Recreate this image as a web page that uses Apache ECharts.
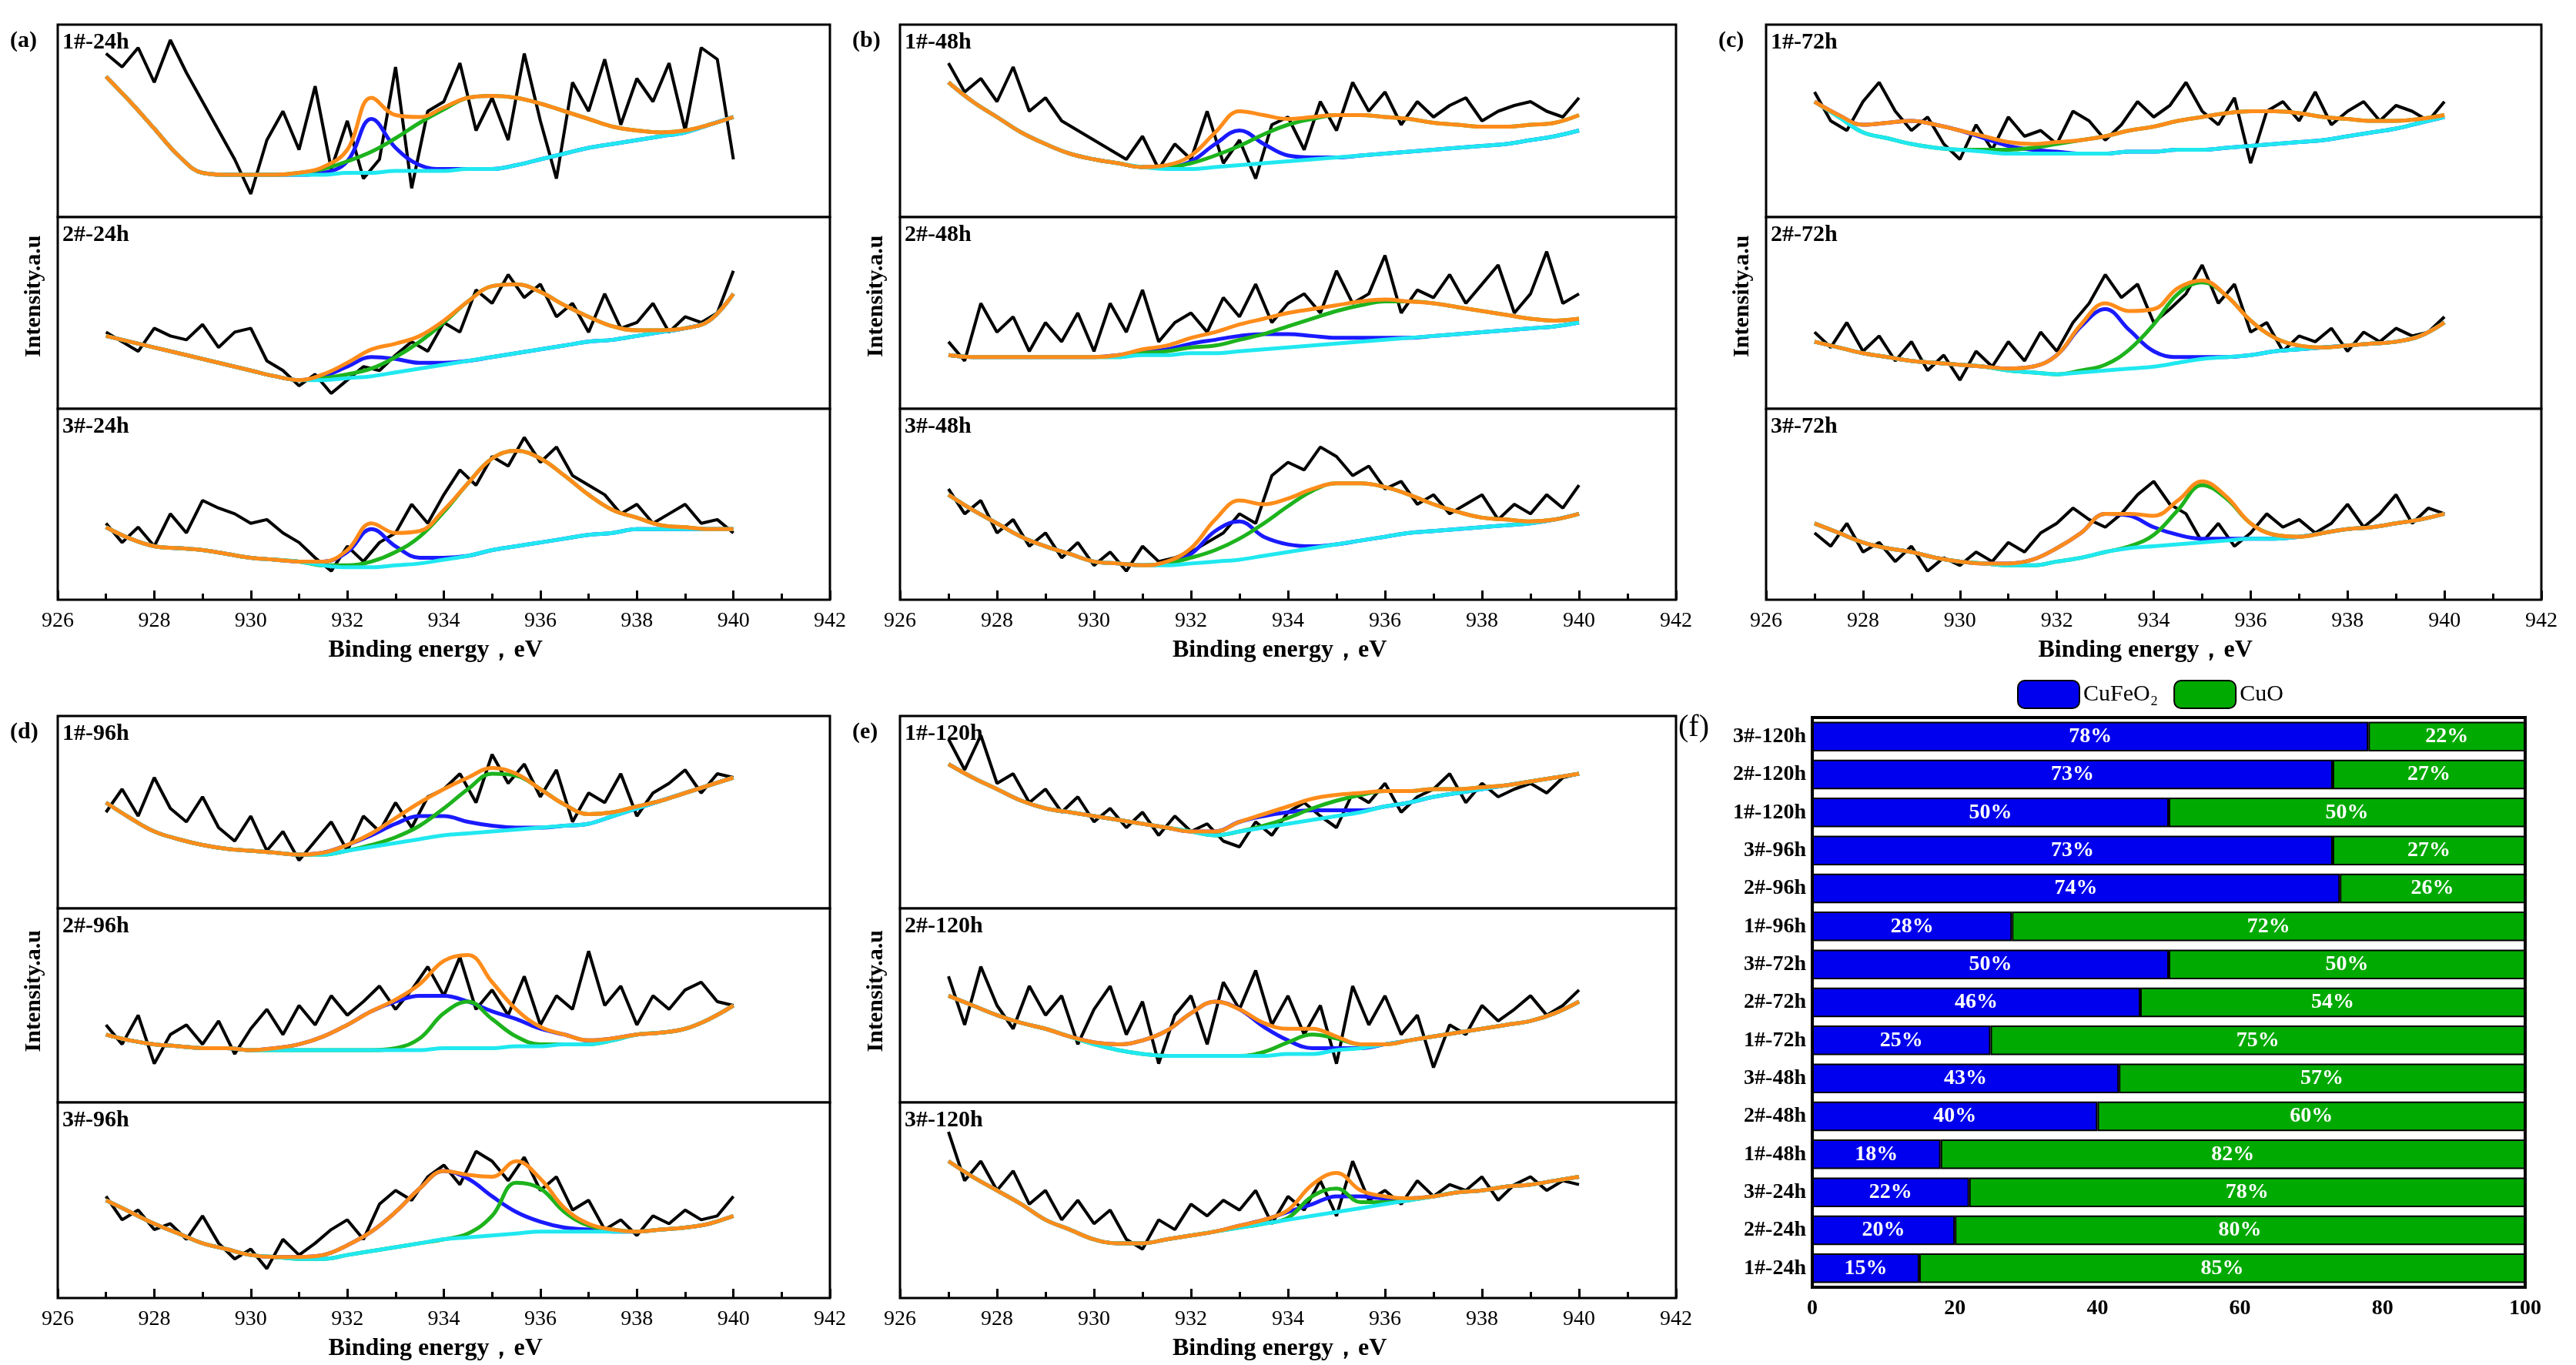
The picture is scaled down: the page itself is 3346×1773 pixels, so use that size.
<!DOCTYPE html>
<html>
<head>
<meta charset="utf-8">
<script src="https://cdn.jsdelivr.net/npm/echarts@6/dist/echarts.min.js"></script>
<style>html,body{margin:0;background:#fff}#chart{width:3346px;height:1773px}</style>
</head>
<body>
<div id="chart"></div>
<script>
// fit knots: 927 .. 940 every 0.5 eV ; raw spectrum: 927 .. 940 every 1/3 eV
const knotStart = 927, knotStep = 0.5
const rawStart = 927, rawStep = 1 / 3

// ---- (a) 24h ----
const bg_1_24 = [73,60,46,32,23,22,22,22,22,22,23,23,24,24,24,25,25,27,30,33,36,38,40,42,44,48,52]
const cufeo2_1_24 = [0,0,0,0,0,0,0,0,0,1,6,28,12,3,1,0,0,0,0,0,0,0,0,0,0,0,0]
const cuo_1_24 = [0,0,0,0,0,0,0,0,1,3,6,11,17,25,32,37,38,35,29,22,15,9,5,2,1,0,0]
const raw_1_24 = [85,78,88,70,92,75,60,45,30,12,40,55,35,68,25,50,20,30,78,15,55,60,80,45,62,40,85,50,20,70,55,82,48,72,60,80,45,88,82,30]

const bg_2_24 = [38,35,32,29,26,23,20,17,15,15,16,17,19,21,23,25,27,29,31,33,35,36,38,40,42,46,60]
const cufeo2_2_24 = [0,0,0,0,0,0,0,0,0,2,6,10,7,3,1,0,0,0,0,0,0,0,0,0,0,0,0]
const cuo_2_24 = [0,0,0,0,0,0,0,0,0,1,2,4,8,14,22,31,37,36,30,21,13,7,3,1,0,0,0]
const raw_2_24 = [40,35,30,42,38,36,44,32,40,42,25,20,12,18,8,15,22,20,28,35,30,45,40,62,55,70,58,65,48,55,40,60,42,45,55,40,48,45,50,72]

const bg_3_24 = [38,32,28,27,26,24,22,21,20,18,17,17,18,19,21,23,26,28,30,32,34,35,37,37,37,37,37]
const cufeo2_3_24 = [0,0,0,0,0,0,0,0,0,2,8,20,10,3,1,0,0,0,0,0,0,0,0,0,0,0,0]
const cuo_3_24 = [0,0,0,0,0,0,0,0,0,0,1,3,7,14,25,38,48,50,44,33,21,12,6,2,1,0,0]
const raw_3_24 = [40,30,38,28,45,35,52,48,45,40,42,35,30,22,15,28,20,30,35,50,40,55,68,60,75,70,85,72,80,65,60,55,45,50,40,45,50,40,42,35]

// ---- (b) 48h ----
const bg_1_48 = [70,60,52,44,38,33,30,28,26,25,25,26,27,28,29,30,31,32,33,34,35,36,37,38,40,42,45]
const cufeo2_1_48 = [0,0,0,0,0,0,0,0,0,1,4,12,18,10,3,1,0,0,0,0,0,0,0,0,0,0,0]
const cuo_1_48 = [0,0,0,0,0,0,0,0,0,1,3,6,10,15,19,21,22,21,19,17,14,12,10,9,8,7,8]
const raw_1_48 = [80,65,72,60,78,55,62,50,45,40,35,30,42,25,38,30,55,28,40,20,48,52,35,60,45,70,55,65,48,60,52,58,62,50,55,58,60,55,52,62]

const bg_2_48 = [28,27,27,27,27,27,27,27,28,28,29,29,30,31,32,33,34,35,36,37,38,39,40,41,42,43,45]
const cufeo2_2_48 = [0,0,0,0,0,0,0,1,2,3,5,7,8,8,7,5,3,2,1,0,0,0,0,0,0,0,0]
const cuo_2_48 = [0,0,0,0,0,0,0,0,1,2,3,4,6,8,11,14,17,19,20,19,17,14,11,8,5,3,2]
const raw_2_48 = [35,25,55,40,48,30,45,35,50,30,55,40,62,35,45,50,40,58,48,65,45,55,60,50,72,55,60,80,50,62,58,70,55,65,75,50,60,82,55,60]

const bg_3_48 = [55,47,40,33,28,24,20,19,18,18,19,20,21,23,25,27,29,31,33,35,36,37,38,39,40,42,45]
const cufeo2_3_48 = [0,0,0,0,0,0,0,0,0,1,5,16,20,10,4,1,0,0,0,0,0,0,0,0,0,0,0]
const cuo_3_48 = [0,0,0,0,0,0,0,0,0,1,3,6,11,17,24,30,32,30,26,20,14,9,5,3,1,0,0]
const raw_3_48 = [58,45,52,35,42,28,35,22,30,18,25,15,28,20,22,25,30,35,45,40,65,72,68,80,75,65,70,58,62,50,55,45,50,55,42,50,45,55,48,60]

// ---- (c) 72h ----
const bg_1_72 = [60,52,44,41,38,36,35,34,33,33,33,33,33,34,34,35,35,36,37,38,39,40,42,44,46,49,52]
const cufeo2_1_72 = [0,1,4,8,12,12,10,7,4,2,1,0,0,0,0,0,0,0,0,0,0,0,0,0,0,0,0]
const cuo_1_72 = [0,0,0,0,0,0,0,1,2,3,5,7,9,11,13,15,17,18,18,17,15,12,9,6,4,2,1]
const raw_1_72 = [65,50,45,60,70,55,45,52,38,30,48,35,52,42,45,38,55,50,40,48,60,52,58,70,55,48,62,28,55,60,50,65,48,55,60,50,58,55,50,60]

const bg_2_72 = [35,32,29,27,25,24,23,22,20,19,18,19,20,21,22,24,26,27,28,30,31,32,33,34,35,38,45]
const cufeo2_2_72 = [0,0,0,0,0,0,0,0,1,3,10,24,32,20,8,3,1,0,0,0,0,0,0,0,0,0,0]
const cuo_2_72 = [0,0,0,0,0,0,0,0,0,0,0,1,3,10,22,36,40,32,18,7,2,0,0,0,0,0,0]
const raw_2_72 = [40,32,45,30,38,25,35,20,28,15,30,22,35,25,40,30,45,55,70,58,65,45,52,60,75,55,65,40,45,30,38,35,42,30,40,35,42,38,40,48]

const bg_3_72 = [40,35,30,27,25,22,20,19,18,18,20,22,25,27,28,29,30,31,32,32,33,35,37,38,40,42,45]
const cufeo2_3_72 = [0,0,0,0,0,0,0,0,1,3,7,13,20,17,10,5,2,1,0,0,0,0,0,0,0,0,0]
const cuo_3_72 = [0,0,0,0,0,0,0,0,0,0,0,0,0,1,6,18,30,22,8,2,0,0,0,0,0,0,0]
const raw_3_72 = [35,28,40,25,30,20,28,15,22,18,25,20,30,25,35,40,48,42,38,45,55,62,50,45,30,40,28,35,45,38,42,35,40,50,38,45,55,40,48,45]

// ---- (d) 96h ----
const bg_1_96 = [55,47,40,36,33,31,30,29,28,28,30,32,34,36,38,39,40,41,42,43,44,48,52,56,60,64,68]
const cufeo2_1_96 = [0,0,0,0,0,0,0,0,0,1,3,6,10,12,10,6,3,1,0,0,0,0,0,0,0,0,0]
const cuo_1_96 = [0,0,0,0,0,0,0,0,0,0,0,1,3,7,14,23,30,28,20,11,5,2,1,0,0,0,0]
const raw_1_96 = [50,62,48,68,52,45,58,42,35,48,30,40,25,35,45,30,48,40,55,42,58,62,70,55,80,65,75,58,72,45,60,55,70,48,60,65,72,60,70,68]

const bg_2_96 = [35,32,30,29,28,28,27,27,27,27,27,27,27,27,28,28,28,29,29,30,30,32,35,36,38,43,50]
const cufeo2_2_96 = [0,0,0,0,0,0,0,1,3,7,13,20,25,28,27,24,19,14,9,5,2,1,0,0,0,0,0]
const cuo_2_96 = [0,0,0,0,0,0,0,0,0,0,0,0,1,6,18,24,15,5,1,0,0,0,0,0,0,0,0]
const raw_2_96 = [40,30,45,20,35,40,30,42,25,38,48,35,50,40,55,45,52,60,48,58,70,55,75,48,58,45,65,40,55,48,78,50,60,40,55,48,58,62,52,50]

const bg_3_96 = [50,44,38,33,28,25,22,21,20,20,22,24,26,28,30,31,32,33,34,34,34,34,34,35,36,38,42]
const cufeo2_3_96 = [0,0,0,0,0,0,0,0,1,2,5,10,18,28,35,30,20,11,5,2,1,0,0,0,0,0,0]
const cuo_3_96 = [0,0,0,0,0,0,0,0,0,0,0,0,0,0,0,2,10,26,22,10,3,1,0,0,0,0,0]
const raw_3_96 = [52,40,45,35,38,30,42,28,20,25,15,30,22,28,35,40,30,48,55,50,62,68,58,75,70,60,72,55,62,45,50,35,40,32,42,38,45,40,42,52]

// ---- (e) 120h ----
const bg_1_120 = [75,68,62,56,52,50,48,46,44,42,40,38,40,42,44,46,48,50,53,55,58,60,62,64,66,68,70]
const cufeo2_1_120 = [0,0,0,0,0,0,0,0,0,0,0,2,5,6,6,5,3,1,0,0,0,0,0,0,0,0,0]
const cuo_1_120 = [0,0,0,0,0,0,0,0,0,0,0,0,0,1,3,6,8,9,8,6,4,2,1,0,0,0,0]
const raw_1_120 = [88,72,90,65,70,55,62,50,58,45,52,42,50,38,48,40,44,35,32,45,38,50,55,48,42,60,55,65,50,58,62,70,55,65,58,62,65,60,68,70]

const bg_2_120 = [55,50,45,41,38,34,30,27,25,24,24,24,24,24,25,25,27,28,30,32,34,36,38,40,42,46,52]
const cufeo2_2_120 = [0,0,0,0,0,0,1,3,7,13,22,28,24,15,7,3,1,0,0,0,0,0,0,0,0,0,0]
const cuo_2_120 = [0,0,0,0,0,0,0,0,0,0,0,0,0,2,6,10,6,2,0,0,0,0,0,0,0,0,0]
const raw_2_120 = [65,40,70,50,38,60,45,55,30,48,60,35,52,20,45,55,30,62,48,68,40,55,35,50,20,60,40,55,35,45,18,40,35,50,42,48,55,45,50,58]

const bg_3_120 = [70,62,55,48,40,35,30,28,28,30,32,34,36,38,40,42,44,46,48,50,52,54,55,57,58,60,62]
const cufeo2_3_120 = [0,0,0,0,0,0,0,0,0,0,0,0,1,2,4,6,8,6,3,1,0,0,0,0,0,0,0]
const cuo_3_120 = [0,0,0,0,0,0,0,0,0,0,0,0,0,0,1,10,12,3,1,0,0,0,0,0,0,0,0]
const raw_3_120 = [85,60,70,55,65,48,55,40,50,38,45,30,25,40,35,48,42,50,45,55,38,52,45,60,42,70,50,55,48,60,52,58,55,62,50,58,62,55,60,58]

// ---- (f) phase ratio ----
const sampleNames = ['1#-24h','2#-24h','3#-24h','1#-48h','2#-48h','3#-48h','1#-72h','2#-72h','3#-72h','1#-96h','2#-96h','3#-96h','1#-120h','2#-120h','3#-120h']
const cufeo2Pct = [15,20,22,18,40,43,25,46,50,28,74,73,50,73,78]
const cuoPct = [85,80,78,82,60,57,75,54,50,72,26,27,50,27,22]

const topRows = [32, 282, 531, 779]
const bottomRows = [930, 1180, 1432, 1686]
const panels = [
  { tag: '(a)', hours: '24h', left: 75, width: 1003, rows: topRows,
    subs: [[bg_1_24, cufeo2_1_24, cuo_1_24, raw_1_24], [bg_2_24, cufeo2_2_24, cuo_2_24, raw_2_24], [bg_3_24, cufeo2_3_24, cuo_3_24, raw_3_24]] },
  { tag: '(b)', hours: '48h', left: 1169, width: 1008, rows: topRows,
    subs: [[bg_1_48, cufeo2_1_48, cuo_1_48, raw_1_48], [bg_2_48, cufeo2_2_48, cuo_2_48, raw_2_48], [bg_3_48, cufeo2_3_48, cuo_3_48, raw_3_48]] },
  { tag: '(c)', hours: '72h', left: 2294, width: 1007, rows: topRows,
    subs: [[bg_1_72, cufeo2_1_72, cuo_1_72, raw_1_72], [bg_2_72, cufeo2_2_72, cuo_2_72, raw_2_72], [bg_3_72, cufeo2_3_72, cuo_3_72, raw_3_72]] },
  { tag: '(d)', hours: '96h', left: 75, width: 1003, rows: bottomRows,
    subs: [[bg_1_96, cufeo2_1_96, cuo_1_96, raw_1_96], [bg_2_96, cufeo2_2_96, cuo_2_96, raw_2_96], [bg_3_96, cufeo2_3_96, cuo_3_96, raw_3_96]] },
  { tag: '(e)', hours: '120h', left: 1169, width: 1008, rows: bottomRows,
    subs: [[bg_1_120, cufeo2_1_120, cuo_1_120, raw_1_120], [bg_2_120, cufeo2_2_120, cuo_2_120, raw_2_120], [bg_3_120, cufeo2_3_120, cuo_3_120, raw_3_120]] }
]

const serif = 'Liberation Serif'
const grid = [], xAxis = [], yAxis = [], series = [], graphic = []

const knots = arr => arr.map((v, i) => [knotStart + i * knotStep, v])
const addTo = (bg, extra) => bg.map((v, i) => [knotStart + i * knotStep, v + extra[i]])
const fitLine = (idx, data, color, z) => ({
  type: 'line', xAxisIndex: idx, yAxisIndex: idx, data, smooth: 0.4, symbol: 'none',
  lineStyle: { color, width: 5 }, z
})

panels.forEach(p => {
  p.subs.forEach((s, k) => {
    const idx = grid.length
    const top = p.rows[k], bottom = p.rows[k + 1]
    const last = k === 2
    grid.push({ left: p.left, width: p.width, top, height: bottom - top, show: true,
      borderColor: '#000', borderWidth: 3, backgroundColor: '#fff' })
    xAxis.push({ type: 'value', gridIndex: idx, min: 926, max: 942, interval: 2,
      axisLine: { show: false }, splitLine: { show: false },
      axisTick: { show: last, inside: true, length: 12, lineStyle: { color: '#000', width: 3 } },
      minorTick: { show: last, splitNumber: 2, length: 8, lineStyle: { color: '#000', width: 3 } },
      axisLabel: { show: last, fontFamily: serif, fontSize: 28, color: '#000', margin: 14 } })
    yAxis.push({ type: 'value', gridIndex: idx, min: 0, max: 100, show: false })
    const [bg, blue, green, raw] = s
    const sum = bg.map((v, i) => [knotStart + i * knotStep, v + blue[i] + green[i]])
    series.push({ type: 'line', xAxisIndex: idx, yAxisIndex: idx, symbol: 'none',
      data: raw.map((v, i) => [rawStart + i * rawStep, v]), lineStyle: { color: '#000', width: 4 }, z: 2 })
    series.push(fitLine(idx, addTo(bg, blue), '#1a1aff', 3))
    series.push(fitLine(idx, addTo(bg, green), '#1db31d', 4))
    series.push(fitLine(idx, knots(bg), '#20e8f0', 5))
    series.push(fitLine(idx, sum, '#ff8c1a', 6))
    graphic.push({ type: 'text', left: p.left + 6, top: top + 8,
      style: { text: (k + 1) + '#-' + p.hours, font: 'bold 30px "Liberation Serif"', fill: '#000' } })
  })
  graphic.push({ type: 'text', left: p.left - 62, top: p.rows[0] + 6,
    style: { text: p.tag, font: 'bold 30px "Liberation Serif"', fill: '#000' } })
  graphic.push({ type: 'text', left: p.left + p.width / 2 - 150, top: p.rows[3] + 50,
    style: { text: 'Binding energy，eV', font: 'bold 32px "Liberation Serif"', fill: '#000' } })
  graphic.push({ type: 'text', left: p.left - 46, top: (p.rows[0] + p.rows[3]) / 2 - 100, rotation: Math.PI / 2,
    style: { text: 'Intensity.a.u', font: 'bold 30px "Liberation Serif"', fill: '#000' } })
})

// phase ratio bar chart
const fIdx = grid.length
grid.push({ left: 2354, width: 926, top: 932, height: 740, show: true, borderColor: '#000', borderWidth: 4, backgroundColor: '#fff' })
xAxis.push({ type: 'value', gridIndex: fIdx, min: 0, max: 100, interval: 20, splitLine: { show: false },
  axisLine: { show: false }, axisTick: { show: false },
  axisLabel: { fontFamily: serif, fontWeight: 'bold', fontSize: 28, color: '#000', margin: 14 } })
yAxis.push({ type: 'category', gridIndex: fIdx, data: sampleNames, axisLine: { show: false }, axisTick: { show: false },
  axisLabel: { fontFamily: serif, fontWeight: 'bold', fontSize: 28, color: '#000', margin: 8 } })
const barLabel = { show: true, position: 'inside', color: '#fff', fontFamily: serif, fontWeight: 'bold', fontSize: 28, formatter: '{c}%' }
series.push({ name: 'CuFeO₂', type: 'bar', stack: 'p', xAxisIndex: fIdx, yAxisIndex: fIdx, data: cufeo2Pct, barWidth: '78%',
  itemStyle: { color: '#0000ee', borderColor: '#000', borderWidth: 2 }, label: barLabel })
series.push({ name: 'CuO', type: 'bar', stack: 'p', xAxisIndex: fIdx, yAxisIndex: fIdx, data: cuoPct, barWidth: '78%',
  itemStyle: { color: '#00aa00', borderColor: '#000', borderWidth: 2 }, label: barLabel })
graphic.push({ type: 'text', left: 2180, top: 925, style: { text: '(f)', font: '40px "Liberation Serif"', fill: '#000' } })

const chart = echarts.init(document.getElementById('chart'))
chart.setOption({
  backgroundColor: '#fff',
  animation: false,
  legend: { top: 878, left: 2615, itemWidth: 80, itemHeight: 36, itemGap: 20, data: ['CuFeO₂', 'CuO'],
    textStyle: { fontFamily: serif, fontSize: 30, color: '#000' },
    itemStyle: { borderColor: '#000', borderWidth: 2 } },
  grid, xAxis, yAxis, series, graphic
})
</script>
</body>
</html>
